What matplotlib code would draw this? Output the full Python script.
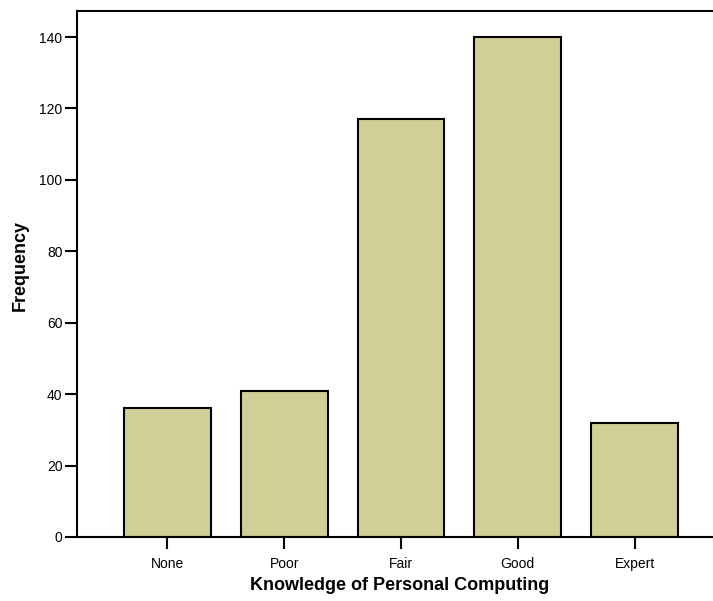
import matplotlib.pyplot as plt

categories = ["None", "Poor", "Fair", "Good", "Expert"]
frequency = [36, 41, 117, 140, 32]
y_ticks = [0, 20, 40, 60, 80, 100, 120, 140]

plt.rcParams["font.family"] = ["Liberation Sans", "DejaVu Sans"]

fig = plt.figure(figsize=(7.13, 6.01), dpi=100)
ax = fig.add_axes([77 / 713, 64 / 601, 636 / 713, 526 / 601])

x = list(range(len(categories)))
ax.bar(x, frequency, width=0.744, color="#D2CE98", edgecolor="black", linewidth=1.5)

ax.set_xlim(-0.7735, 4.671)
ax.set_ylim(0, 147.3)
ax.set_xticks(x)
ax.set_xticklabels(categories, fontsize=10)
ax.set_yticks(y_ticks)
ax.tick_params(axis="y", labelsize=10, length=8.5, width=1.5, pad=2)
ax.tick_params(axis="x", length=8.5, width=1.5, pad=6)

ax.spines["right"].set_visible(False)
for s in ["left", "top", "bottom"]:
    ax.spines[s].set_linewidth(1.5)

fig.text(400 / 713, 1 - 585 / 601, "Knowledge of Personal Computing",
         ha="center", va="center", fontsize=13, fontweight="bold")
fig.text(20 / 713, 1 - 265 / 601, "Frequency", ha="center", va="center",
         rotation=90, fontsize=13, fontweight="bold")

fig.savefig("out.png", dpi=100)
